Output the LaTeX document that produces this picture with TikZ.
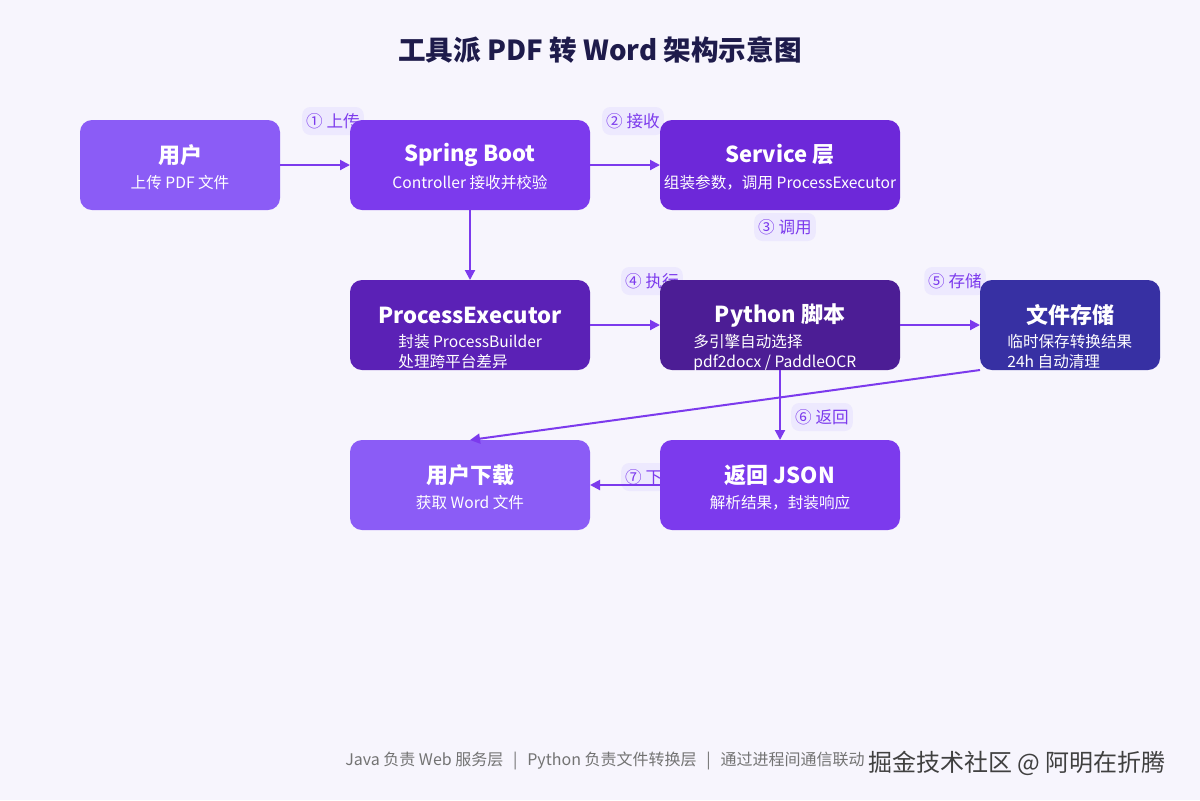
\documentclass[tikz,border=0pt]{standalone}
\usepackage{fontspec}
\setmainfont{Noto Sans CJK SC}
\usetikzlibrary{arrows.meta}
\definecolor{bg}{HTML}{F7F5FD}
\definecolor{c1}{HTML}{8B5CF6}
\definecolor{c2}{HTML}{7C3AED}
\definecolor{c3}{HTML}{6D28D9}
\definecolor{c4}{HTML}{5B21B6}
\definecolor{c5}{HTML}{4C1D95}
\definecolor{c6}{HTML}{3730A3}
\definecolor{pill}{HTML}{EDE9FE}
\definecolor{tit}{HTML}{1E1B4B}
\tikzset{
 box/.style={rounded corners=6pt,draw=none},
 ttl/.style={text=white,font=\fontsize{11}{13}\selectfont\bfseries},
 sub/.style={text=white,font=\fontsize{7.8}{10}\selectfont},
 sub2/.style={text=white,font=\fontsize{7.8}{10}\selectfont,anchor=north west,align=left,inner sep=0},
 lbl/.style={fill=pill,rounded corners=4pt,text=c2,font=\fontsize{8.3}{10}\selectfont,inner sep=2pt,minimum height=14pt},
 arr/.style={draw=c2,line width=1pt,-{Triangle[length=5pt,width=5pt]}}
}
\begin{document}
\begin{tikzpicture}[x=0.5pt,y=-0.5pt]
\fill[bg] (0,0) rectangle (1200,800);
\useasboundingbox (0,0) rectangle (1200,800);
\node[text=tit,font=\fontsize{13.8}{16}\selectfont\bfseries] (title) at (600,50) {工具派 PDF 转 Word 架构示意图};
% labels (behind boxes)
\node[lbl] (l1) at (333,121) {① 上传};
\node[lbl] (l2) at (633,121) {② 接收};
\node[lbl] (l3) at (785,227) {③ 调用};
\node[lbl] (l4) at (652,281) {④ 执行};
\node[lbl] (l5) at (955,281) {⑤ 存储};
\node[lbl] (l6) at (822,417) {⑥ 返回};
\node[lbl] (l7) at (652,477) {⑦ 下载};
% boxes
\fill[box,c1] (80,120) rectangle (280,210);
\fill[box,c2] (350,120) rectangle (590,210);
\fill[box,c3] (660,120) rectangle (900,210);
\fill[box,c4] (350,280) rectangle (590,370);
\fill[box,c5] (660,280) rectangle (900,370);
\fill[box,c6] (980,280) rectangle (1160,370);
\fill[box,c1] (350,440) rectangle (590,530);
\fill[box,c2] (660,440) rectangle (900,530);
\coordinate (user) at (180,165); \coordinate (userE) at (280,165);
\coordinate (sbW) at (350,165); \coordinate (sbE) at (590,165); \coordinate (sbS) at (470,210);
\coordinate (svW) at (660,165);
\coordinate (peN) at (470,280); \coordinate (peE) at (590,325);
\coordinate (pyW) at (660,325); \coordinate (pyE) at (900,325); \coordinate (pyS) at (780,370);
\coordinate (stW) at (980,325); \coordinate (stSW) at (980,370);
\coordinate (dlN) at (470,440); \coordinate (dlE) at (590,485);
\coordinate (jsN) at (780,440); \coordinate (jsW) at (660,485);
\node[ttl] (t1) at (180,155) {用户};
\node[sub] (s1) at (180,183) {上传 PDF 文件};
\node[ttl] (t2) at (470,155) {Spring Boot};
\node[sub] (s2) at (470,183) {Controller 接收并校验};
\node[ttl] (t3) at (780,155) {Service 层};
\node[sub] (s3) at (780,183) {组装参数，调用 ProcessExecutor};
\node[ttl] (t4) at (470,315) {ProcessExecutor};
\node[sub2] (s4) at (398,334) {封装 ProcessBuilder\\处理跨平台差异};
\node[ttl] (t5) at (780,315) {Python 脚本};
\node[sub2] (s5) at (693,334) {多引擎自动选择\\pdf2docx / PaddleOCR};
\node[ttl] (t6) at (1070,315) {文件存储};
\node[sub2] (s6) at (1007,334) {临时保存转换结果\\24h 自动清理};
\node[ttl] (t7) at (470,475) {用户下载};
\node[sub] (s7) at (470,503) {获取 Word 文件};
\node[ttl] (t8) at (780,475) {返回 JSON};
\node[sub] (s8) at (780,503) {解析结果，封装响应};
% arrows
\draw[arr] (userE) -- (sbW);
\draw[arr] (sbE) -- (svW);
\draw[arr] (sbS) -- (peN);
\draw[arr] (peE) -- (pyW);
\draw[arr] (pyE) -- (stW);
\draw[arr] (pyS) -- (jsN);
\draw[arr] (stSW) -- (dlN);
\draw[arr] (jsW) -- (dlE);
% footer
\node[anchor=east,text=gray!90!black,font=\fontsize{8}{9}\selectfont,inner sep=0] (foot) at (865,761) {Java 负责 Web 服务层 \ \,|\, \ Python 负责文件转换层 \ \,|\, \ 通过进程间通信联动};
\node[anchor=west,text=black!75,font=\fontsize{12}{14}\selectfont,inner sep=0] (wm) at (868,763) {掘金技术社区 @ 阿明在折腾};
\end{tikzpicture}
\end{document}
